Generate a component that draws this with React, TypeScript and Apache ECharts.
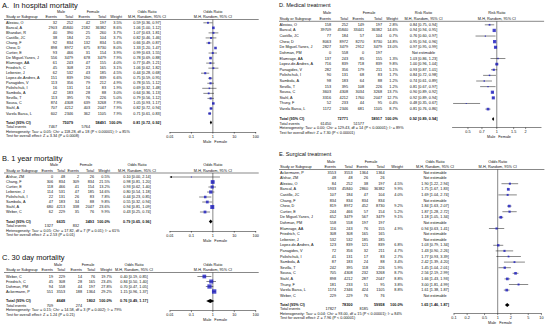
import React, { useEffect, useRef } from "react";
import * as echarts from "echarts";

type Row = [string, number, number, number, number, number | null, number | null, number | null, number | null];

// [study, male events, male total, female events, female total, weight %, estimate, lower, upper]
const hospitalRows: Row[] = [
  ["Alexiou, O", 32, 252, 42, 197, 3.5, 0.59, 0.36, 0.97],
  ["Bancal, A", 2903, 45840, 2182, 36382, 8.6, 1.06, 1.0, 1.12],
  ["Bhandari, R", 40, 390, 25, 260, 3.7, 1.07, 0.63, 1.81],
  ["Castillo, JC", 38, 184, 25, 104, 3.7, 0.82, 0.46, 1.46],
  ["Chang, F", 92, 834, 132, 834, 5.6, 0.66, 0.49, 0.87],
  ["Chew, D", 898, 8972, 675, 8730, 8.0, 1.33, 1.2, 1.47],
  ["Curtier, E", 93, 466, 31, 154, 3.9, 0.99, 0.63, 1.55],
  ["De Miguel-Yanes, J", 556, 3479, 678, 3479, 7.9, 0.78, 0.69, 0.88],
  ["Elamrage, AA", 61, 243, 47, 155, 4.0, 0.77, 0.49, 1.21],
  ["Friedrich, C", 45, 308, 23, 165, 3.1, 1.06, 0.62, 1.82],
  ["Lebenier, J", 62, 532, 43, 185, 4.5, 0.44, 0.28, 0.68],
  ["Lopez-de-Andres, A", 151, 839, 190, 839, 6.6, 0.75, 0.59, 0.95],
  ["Panagides, V", 113, 356, 79, 212, 4.9, 0.78, 0.55, 1.12],
  ["Polishchuk, I", 16, 131, 14, 83, 1.9, 0.69, 0.32, 1.48],
  ["Sambola, A", 42, 183, 28, 88, 3.0, 0.64, 0.36, 1.13],
  ["Sevilla, T", 113, 395, 76, 226, 5.0, 0.79, 0.56, 1.12],
  ["Sousa, C", 874, 4308, 639, 3268, 7.9, 1.05, 0.93, 1.17],
  ["Stahl, A", 707, 4212, 403, 2047, 7.9, 0.82, 0.72, 0.94],
  ["Varela Barca, L", 602, 2346, 362, 1105, 7.9, 0.71, 0.61, 0.83],
];
const hospitalTotals = [75079, 58491];
const hospitalEvents = [7467, 5764];
const hospitalPooled = [0.81, 0.72, 0.92];
const hospitalHet = "Heterogeneity: Tau\u00b2 = 0.05; Chi\u00b2 = 118.28, df = 18 (P < 0.00001); I\u00b2 = 85%";
const hospitalTest = "Test for overall effect: Z = 3.34 (P = 0.0008)";

const yearRows: Row[] = [
  ["Alshar, ZM", 0, 48, 2, 26, 0.5, 0.1, 0.0, 2.14],
  ["Chang, F", 306, 834, 309, 834, 21.5, 0.98, 0.81, 1.2],
  ["Curtier, E", 118, 466, 41, 154, 13.2, 0.93, 0.62, 1.4],
  ["Lebenier, J", 114, 531, 47, 185, 14.6, 0.8, 0.54, 1.18],
  ["Polishchuk, I", 22, 131, 26, 83, 7.8, 0.44, 0.23, 0.85],
  ["Sambola, A", 47, 183, 34, 88, 9.8, 0.55, 0.32, 0.94],
  ["Stahl, A", 680, 4213, 338, 2047, 23.6, 0.94, 0.81, 1.09],
  ["Weber, C", 62, 229, 35, 76, 9.9, 0.43, 0.25, 0.74],
];
const yearTotals = [6635, 3493];
const yearEvents = [1327, 832];
const yearPooled = [0.79, 0.65, 0.96];
const yearHet = "Heterogeneity: Tau\u00b2 = 0.05; Chi\u00b2 = 17.82, df = 7 (P = 0.01); I\u00b2 = 61%";
const yearTest = "Test for overall effect: Z = 2.53 (P = 0.01)";

const monthRows: Row[] = [
  ["Weber, C", 19, 229, 14, 76, 19.7, 0.4, 0.19, 0.85],
  ["Friedrich, C", 45, 308, 28, 165, 23.4, 0.84, 0.5, 1.4],
  ["Dohman, PM", 94, 558, 44, 197, 27.8, 0.7, 0.47, 1.05],
  ["Ackermann, P", 551, 3553, 188, 1364, 29.2, 1.15, 0.96, 1.37],
];
const monthTotals = [4648, 1802];
const monthEvents = [709, 274];
const monthPooled = [0.76, 0.49, 1.17];
const monthHet = "Heterogeneity: Tau\u00b2 = 0.15; Chi\u00b2 = 14.58, df = 3 (P = 0.002); I\u00b2 = 79%";
const monthTest = "Test for overall effect: Z = 1.24 (P = 0.21)";

const medicalRows: Row[] = [
  ["Alexiou, O", 158, 252, 149, 197, 2.8, 0.84, 0.75, 0.94],
  ["Bancal, A", 39709, 45840, 33441, 36382, 14.6, 0.94, 0.94, 0.95],
  ["Castillo, JC", 77, 184, 57, 104, 0.7, 0.76, 0.6, 0.97],
  ["Chew, D", 8063, 8972, 8270, 8730, 14.8, 0.95, 0.94, 0.96],
  ["De Miguel-Yanes, J", 2827, 3479, 2912, 3479, 13.0, 0.97, 0.95, 0.99],
  ["Dohman, PM", 0, 558, 0, 197, null, null, null, null],
  ["Elamrage, AA", 137, 243, 85, 155, 1.3, 1.03, 0.86, 1.23],
  ["Lopez-de-Andres, A", 716, 839, 718, 839, 9.8, 1.0, 0.96, 1.04],
  ["Panagides, V", 282, 356, 179, 211, 5.1, 0.93, 0.87, 1.01],
  ["Polishchuk, I", 90, 131, 68, 83, 1.7, 0.84, 0.72, 0.98],
  ["Sambola, A", 98, 183, 64, 88, 1.2, 0.74, 0.61, 0.89],
  ["Sevilla, T", 153, 395, 108, 226, 1.2, 0.81, 0.67, 0.97],
  ["Sousa, C", 3603, 4308, 3034, 3268, 13.7, 0.9, 0.89, 0.92],
  ["Stahl, A", 3316, 4212, 1760, 2047, 12.7, 0.92, 0.89, 0.94],
  ["Thuny, F", 52, 233, 44, 95, 0.4, 0.48, 0.35, 0.67],
  ["Varela Barca, L", 1172, 2346, 681, 1105, 8.7, 0.81, 0.76, 0.86],
];
const medicalTotals = [72771, 58917];
const medicalEvents = [61450, 51577];
const medicalPooled = [0.92, 0.89, 0.94];
const medicalHet = "Heterogeneity: Tau\u00b2 = 0.00; Chi\u00b2 = 129.43, df = 14 (P < 0.00001); I\u00b2 = 89%";
const medicalTest = "Test for overall effect: Z = 7.30 (P < 0.00001)";

const surgicalRows: Row[] = [
  ["Ackermann, P", 3553, 3553, 1364, 1364, null, null, null, null],
  ["Alshar, ZM", 48, 48, 26, 26, null, null, null, null],
  ["Alexiou, O", 84, 252, 38, 197, 4.5, 1.9, 1.22, 2.94],
  ["Bancal, A", 5933, 45840, 2860, 36382, 9.9, 1.75, 1.67, 1.83],
  ["Castillo, JC", 107, 184, 47, 104, 4.0, 1.69, 1.04, 2.74],
  ["Chang, F", 834, 834, 834, 834, null, null, null, null],
  ["Chew, D", 819, 8972, 452, 8730, 9.2, 1.84, 1.63, 2.07],
  ["Curtier, E", 244, 466, 57, 154, 5.2, 1.87, 1.28, 2.72],
  ["De Miguel-Yanes, J", 652, 3479, 567, 3479, 9.1, 1.18, 1.05, 1.34],
  ["Dohman, PM", 558, 558, 197, 197, null, null, null, null],
  ["Elamrage, AA", 116, 243, 76, 155, 4.9, 0.94, 0.63, 1.41],
  ["Friedrich, C", 308, 308, 165, 165, null, null, null, null],
  ["Lebenier, J", 532, 532, 185, 185, null, null, null, null],
  ["Lopez-de-Andres, A", 123, 839, 121, 839, 6.8, 1.03, 0.79, 1.34],
  ["Panagides, V", 72, 356, 32, 211, 4.7, 1.43, 0.9, 2.26],
  ["Polishchuk, I", 41, 131, 17, 83, 2.7, 1.77, 0.93, 3.39],
  ["Sambola, A", 87, 183, 24, 88, 3.4, 2.42, 1.39, 4.2],
  ["Sevilla, T", 242, 395, 118, 226, 5.9, 1.45, 1.04, 2.01],
  ["Sousa, C", 705, 4308, 232, 3268, 8.7, 2.56, 2.19, 2.99],
  ["Stahl, A", 898, 4212, 287, 2047, 8.8, 1.66, 1.43, 1.93],
  ["Thuny, F", 181, 233, 51, 95, 3.8, 3.0, 1.81, 4.99],
  ["Varela Barca, L", 1174, 2346, 424, 1105, 8.8, 1.61, 1.38, 1.87],
  ["Weber, C", 229, 229, 76, 76, null, null, null, null],
];
const surgicalTotals = [78300, 59958];
const surgicalEvents = [17827, 8185];
const surgicalPooled = [1.65, 1.46, 1.87];
const surgicalHet = "Heterogeneity: Tau\u00b2 = 0.04; Chi\u00b2 = 93.00, df = 15 (P < 0.00001); I\u00b2 = 84%";
const surgicalTest = "Test for overall effect: Z = 7.96 (P < 0.00001)";

const wideTicks = [0.01, 0.1, 1, 10, 100];
const medicalTicks = [0.5, 0.7, 1, 1.5, 2];
const surgicalTicks = [0.1, 0.2, 0.5, 1, 2, 5, 10];
const groupLabels = ["Male", "Female"];
const columnHeads = ["Events", "Total", "Events", "Total", "Weight"];

const FONT = "'Liberation Sans', Arial, Helvetica, sans-serif";
const FS = 3.8;
const BLUE = "#1c1cc0";
const INK = "#111";

interface Layout {
  titleX: number; titleY: number; titleSize: number;
  hdr1Y: number; hdr2Y: number; ruleY: number; ruleX0: number;
  y0: number; dy: number; totalY: number; eventsY: number; hetY: number; testY: number;
  nameX: number; cols: number[]; maleX: number; femaleX: number; ciX: number;
  axisY: number; plotX0: number; plotX1: number;
}

const layoutA: Layout = {
  titleX: 2, titleY: 5, titleSize: 7.5, hdr1Y: 11.8, hdr2Y: 17, ruleY: 19.5, ruleX0: 4,
  y0: 22.8, dy: 5.04, totalY: 122.5, eventsY: 127, hetY: 131.5, testY: 136,
  nameX: 6, cols: [57, 73, 90, 106, 122], maleX: 61, femaleX: 93, ciX: 147,
  axisY: 132, plotX0: 170, plotX1: 255.7,
};
const layoutB: Layout = {
  titleX: 2, titleY: 158, titleSize: 7.5, hdr1Y: 165, hdr2Y: 170.5, ruleY: 173, ruleX0: 4,
  y0: 177, dy: 5, totalY: 221.5, eventsY: 226, hetY: 230.5, testY: 235,
  nameX: 6, cols: [53, 65, 79, 94, 110], maleX: 54, femaleX: 86, ciX: 137,
  axisY: 231, plotX0: 170, plotX1: 255.7,
};
const layoutC: Layout = {
  titleX: 2, titleY: 257, titleSize: 7.5, hdr1Y: 264.5, hdr2Y: 270, ruleY: 272.5, ruleX0: 4,
  y0: 276.5, dy: 5, totalY: 301, eventsY: 305.5, hetY: 310, testY: 314.5,
  nameX: 6, cols: [53, 65, 82, 95, 112], maleX: 58, femaleX: 88, ciX: 134,
  axisY: 310.5, plotX0: 170, plotX1: 255.7,
};
const layoutD: Layout = {
  titleX: 279, titleY: 4.5, titleSize: 5.6, hdr1Y: 13, hdr2Y: 18.8, ruleY: 21.3, ruleX0: 279,
  y0: 24.8, dy: 5.62, totalY: 119, eventsY: 123.5, hetY: 128, testY: 132.5,
  nameX: 279.5, cols: [331, 348, 364, 382, 398], maleX: 327, femaleX: 369, ciX: 423.5,
  axisY: 127.5, plotX0: 452.5, plotX1: 541.1,
};
const layoutE: Layout = {
  titleX: 279, titleY: 154, titleSize: 5.6, hdr1Y: 161.5, hdr2Y: 167, ruleY: 169.5, ruleX0: 279,
  y0: 172.5, dy: 5.6, totalY: 305, eventsY: 309.3, hetY: 313.6, testY: 317.9,
  nameX: 280, cols: [336, 352.5, 368, 384.5, 403], maleX: 331, femaleX: 371, ciX: 435,
  axisY: 313.5, plotX0: 454, plotX1: 541.4,
};

const panels = [
  { title: "A.  In hospital mortality", measure: "Odds Ratio", rows: hospitalRows, totals: hospitalTotals, events: hospitalEvents, pooled: hospitalPooled, het: hospitalHet, test: hospitalTest, ticks: wideTicks, range: [0.01, 100], L: layoutA },
  { title: "B. 1 year mortality", measure: "Odds Ratio", rows: yearRows, totals: yearTotals, events: yearEvents, pooled: yearPooled, het: yearHet, test: yearTest, ticks: wideTicks, range: [0.01, 100], L: layoutB },
  { title: "C. 30 day mortality", measure: "Odds Ratio", rows: monthRows, totals: monthTotals, events: monthEvents, pooled: monthPooled, het: monthHet, test: monthTest, ticks: wideTicks, range: [0.01, 100], L: layoutC },
  { title: "D. Medical treatment", measure: "Risk Ratio", rows: medicalRows, totals: medicalTotals, events: medicalEvents, pooled: medicalPooled, het: medicalHet, test: medicalTest, ticks: medicalTicks, range: [0.345, 2.9], L: layoutD },
  { title: "E. Surgical treatment", measure: "Odds Ratio", rows: surgicalRows, totals: surgicalTotals, events: surgicalEvents, pooled: surgicalPooled, het: surgicalHet, test: surgicalTest, ticks: surgicalTicks, range: [0.1, 10], L: layoutE },
];

const ci = (e: number, l: number, u: number) => `${e.toFixed(2)} [${l.toFixed(2)}, ${u.toFixed(2)}]`;

const textEl = (x: number, y: number, text: string, align = "left", size = FS, weight = "normal") => ({
  type: "text", x, y, silent: true, z: 10,
  style: {
    text, fontSize: size, fontFamily: FONT, fontWeight: weight, fill: INK,
    align, verticalAlign: "middle", textAlign: align, textVerticalAlign: "middle",
  },
});

type Mapper = (k: number, xv: number, yv: number) => number[];

// linear mapping identical to the grid/axis definition (used only if the chart cannot be queried)
const fallbackMap: Mapper = (k, xv, yv) => {
  const p = panels[k];
  const L = p.L;
  const lmin = Math.log10(p.range[0]);
  const lmax = Math.log10(p.range[1]);
  return [L.plotX0 + ((xv - lmin) / (lmax - lmin)) * (L.plotX1 - L.plotX0), L.y0 + yv * L.dy];
};

function buildOption(map: Mapper | null) {
  const grids: any[] = [];
  const xAxes: any[] = [];
  const yAxes: any[] = [];
  const series: any[] = [];
  const elements: any[] = [];
  const T = (x: number, y: number, text: string, align = "left", size = FS, weight = "normal") =>
    elements.push(textEl(x, y, text, align, size, weight));

  panels.forEach((p, k) => {
    const L = p.L;
    const lmin = Math.log10(p.range[0]);
    const lmax = Math.log10(p.range[1]);
    const xOne = L.plotX0 + ((0 - lmin) / (lmax - lmin)) * (L.plotX1 - L.plotX0);
    const plotMid = (L.plotX0 + L.plotX1) / 2;
    const yMin = (L.ruleY - L.y0) / L.dy;
    const yMax = (L.axisY - L.y0) / L.dy;
    const totalRow = (L.totalY - L.y0) / L.dy;

    T(L.titleX, L.titleY, p.title, "left", L.titleSize);
    T(L.maleX, L.hdr1Y, groupLabels[0], "center");
    T(L.femaleX, L.hdr1Y, groupLabels[1], "center");
    T(L.ciX, L.hdr1Y, p.measure, "center");
    T(plotMid, L.hdr1Y, p.measure, "center");
    T(L.nameX, L.hdr2Y, "Study or Subgroup");
    columnHeads.forEach((h, i) => T(L.cols[i], L.hdr2Y, h, "right"));
    T(L.ciX, L.hdr2Y, "M-H, Random, 95% CI", "center");
    T(plotMid, L.hdr2Y, "M-H, Random, 95% CI", "center");
    elements.push({
      type: "line", silent: true,
      shape: { x1: L.ruleX0, y1: L.ruleY, x2: L.plotX1 + 3, y2: L.ruleY },
      style: { stroke: INK, lineWidth: 0.5 },
    });

    p.rows.forEach((r, i) => {
      const y = L.y0 + i * L.dy;
      T(L.nameX, y, r[0]);
      [r[1], r[2], r[3], r[4]].forEach((v, j) => T(L.cols[j], y, String(v), "right"));
      if (r[5] != null) T(L.cols[4], y, (r[5] as number).toFixed(1) + "%", "right");
      T(L.ciX, y, r[6] == null ? "Not estimable" : ci(r[6] as number, r[7] as number, r[8] as number), "center");
    });

    T(L.nameX, L.totalY, "Total (95% CI)", "left", FS, "bold");
    T(L.cols[1], L.totalY, String(p.totals[0]), "right", FS, "bold");
    T(L.cols[3], L.totalY, String(p.totals[1]), "right", FS, "bold");
    T(L.cols[4], L.totalY, "100.0%", "right", FS, "bold");
    T(L.ciX, L.totalY, ci(p.pooled[0], p.pooled[1], p.pooled[2]), "center", FS, "bold");
    T(L.nameX, L.eventsY, "Total events");
    T(L.cols[0], L.eventsY, String(p.events[0]), "right");
    T(L.cols[2], L.eventsY, String(p.events[1]), "right");
    T(L.nameX, L.hetY, p.het);
    T(L.nameX, L.testY, p.test);
    T(xOne - 1.5, L.axisY + 9.6, groupLabels[0], "right");
    T(xOne + 1.5, L.axisY + 9.6, groupLabels[1], "left");

    // tick labels, located through the chart's own axis scale
    if (map) {
      p.ticks.forEach((t) => {
        const pt = map(k, Math.log10(t), yMax);
        T(pt[0], pt[1] + 4.6, String(t), "center");
      });
    }

    grids.push({ left: L.plotX0, top: L.ruleY, width: L.plotX1 - L.plotX0, height: L.axisY - L.ruleY, containLabel: false });
    xAxes.push({
      type: "value", gridIndex: k, min: lmin, max: lmax,
      axisLine: { show: true, onZero: false, lineStyle: { color: INK, width: 0.5 } },
      axisTick: { show: false },
      axisLabel: { show: false },
      splitLine: { show: false },
    });
    yAxes.push({ type: "value", gridIndex: k, min: yMin, max: yMax, inverse: true, show: false });

    series.push({
      type: "custom", xAxisIndex: k, yAxisIndex: k, silent: true, clip: false,
      data: p.ticks.map((t) => [Math.log10(t), yMax]),
      renderItem: (_params: any, api: any) => {
        const c = api.coord([api.value(0), api.value(1)]);
        return { type: "line", shape: { x1: c[0], y1: c[1], x2: c[0], y2: c[1] + 1.6 }, style: { stroke: INK, lineWidth: 0.5 } };
      },
    });

    series.push({
      type: "custom", xAxisIndex: k, yAxisIndex: k, silent: true, clip: false,
      data: [[0, yMin, yMax]],
      renderItem: (_params: any, api: any) => {
        const a = api.coord([api.value(0), api.value(1)]);
        const b = api.coord([api.value(0), api.value(2)]);
        return { type: "line", shape: { x1: a[0], y1: a[1], x2: b[0], y2: b[1] }, style: { stroke: INK, lineWidth: 0.5 } };
      },
    });

    const est = p.rows.map((r, i) => ({ r, i })).filter((o) => o.r[6] != null);
    series.push({
      type: "custom", xAxisIndex: k, yAxisIndex: k, silent: true, clip: false,
      data: est.map(({ r, i }) => [
        (r[7] as number) > 0 ? Math.log10(r[7] as number) : lmin - 1,
        Math.log10(r[8] as number),
        i,
      ]),
      renderItem: (_params: any, api: any) => {
        const lo = api.value(0), hi = api.value(1), row = api.value(2);
        const a = api.coord([Math.max(lo, lmin), row]);
        const b = api.coord([Math.min(hi, lmax), row]);
        const children: any[] = [
          { type: "line", shape: { x1: a[0], y1: a[1], x2: b[0], y2: b[1] }, style: { stroke: INK, lineWidth: 0.5 } },
        ];
        if (lo < lmin) children.push({ type: "polygon", shape: { points: [[a[0] - 0.5, a[1]], [a[0] + 2, a[1] - 1], [a[0] + 2, a[1] + 1]] }, style: { fill: INK } });
        if (hi > lmax) children.push({ type: "polygon", shape: { points: [[b[0] + 0.5, b[1]], [b[0] - 2, b[1] - 1], [b[0] - 2, b[1] + 1]] }, style: { fill: INK } });
        return { type: "group", children };
      },
    });
    series.push({
      type: "scatter", xAxisIndex: k, yAxisIndex: k, silent: true, symbol: "rect",
      data: est.map(({ r, i }) => [Math.log10(r[6] as number), i, r[5]]),
      symbolSize: (v: number[]) => 0.6 + 0.7 * Math.sqrt(v[2]),
      itemStyle: { color: BLUE },
    });
    series.push({
      type: "custom", xAxisIndex: k, yAxisIndex: k, silent: true, clip: false,
      data: [[Math.log10(p.pooled[1]), Math.log10(p.pooled[0]), Math.log10(p.pooled[2]), totalRow]],
      renderItem: (_params: any, api: any) => {
        const row = api.value(3);
        const l = api.coord([api.value(0), row]);
        const c = api.coord([api.value(1), row]);
        const r = api.coord([api.value(2), row]);
        const h = 1.9;
        return {
          type: "polygon",
          shape: { points: [[l[0], l[1]], [c[0], c[1] - h], [r[0], r[1]], [c[0], c[1] + h]] },
          style: { fill: "#000" },
        };
      },
    });
  });

  return {
    animation: false,
    backgroundColor: "#fff",
    grid: grids,
    xAxis: xAxes,
    yAxis: yAxes,
    series,
    graphic: { elements },
  };
}

export default function App() {
  const ref = useRef<HTMLDivElement>(null);
  useEffect(() => {
    if (!ref.current) return;
    const chart = echarts.init(ref.current, undefined, { renderer: "svg" });
    chart.setOption(buildOption(null) as any);
    const chartMap: Mapper = (k, xv, yv) => {
      try {
        const pt = chart.convertToPixel({ xAxisIndex: k, yAxisIndex: k } as any, [xv, yv]) as any;
        if (Array.isArray(pt) && isFinite(pt[0]) && isFinite(pt[1])) return pt;
      } catch (e) {
        /* fall through */
      }
      return fallbackMap(k, xv, yv);
    };
    chart.setOption(buildOption(chartMap) as any, true);
    return () => chart.dispose();
  }, []);
  return <div ref={ref} style={{ position: "absolute", left: 0, top: 0, width: 550, height: 333, background: "#fff" }} />;
}
